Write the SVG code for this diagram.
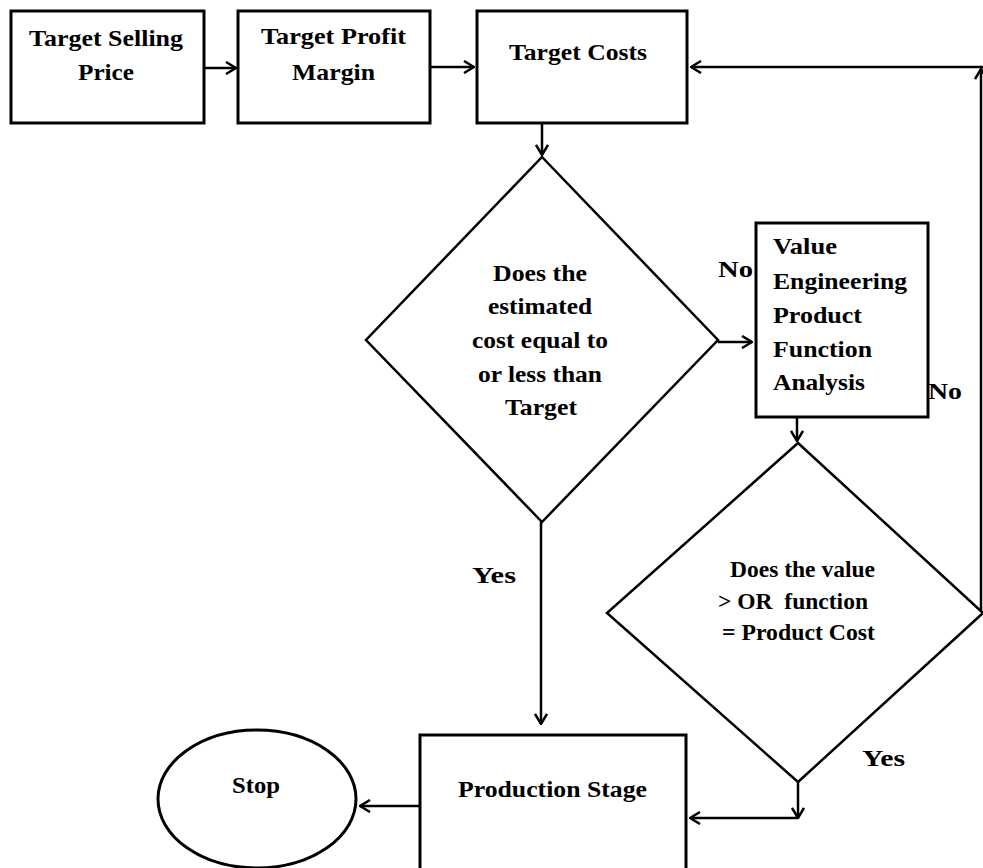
<svg xmlns="http://www.w3.org/2000/svg" width="983" height="868" viewBox="0 0 983 868">
<style>
.box{fill:#fff;stroke:#000;stroke-width:3}
.dia{fill:#fff;stroke:#000;stroke-width:2.5}
.ln{fill:none;stroke:#000;stroke-width:2.5}
.t{font-family:"Liberation Serif","Times New Roman",serif;font-weight:bold;font-size:23px;fill:#000}
</style>
<defs>
<marker id="ah" viewBox="0 0 12 14" refX="11" refY="7" markerWidth="12" markerHeight="14" markerUnits="userSpaceOnUse" orient="auto">
<path d="M1,1 L11,7 L1,13" fill="none" stroke="#000" stroke-width="2.5"/>
</marker>
</defs>
<rect width="983" height="868" fill="#fff"/>
<g id="connectors">
<line class="ln" x1="205" y1="68" x2="236" y2="68" marker-end="url(#ah)"/>
<line class="ln" x1="431" y1="67" x2="474" y2="67" marker-end="url(#ah)"/>
<line class="ln" x1="542" y1="124" x2="542" y2="155" marker-end="url(#ah)"/>
<line class="ln" x1="718" y1="342" x2="752" y2="342" marker-end="url(#ah)"/>
<line class="ln" x1="797" y1="418" x2="797" y2="441" marker-end="url(#ah)"/>
<line class="ln" x1="541" y1="522" x2="541" y2="724" marker-end="url(#ah)"/>
<line class="ln" x1="798" y1="782" x2="798" y2="818" marker-end="url(#ah)"/>
<line class="ln" x1="798" y1="818" x2="690" y2="818" marker-end="url(#ah)"/>
<line class="ln" x1="420" y1="806" x2="360" y2="806" marker-end="url(#ah)"/>
<line class="ln" x1="981" y1="613" x2="981" y2="69" stroke-width="1.8" marker-end="url(#ah)"/>
<line class="ln" x1="983" y1="67" x2="691" y2="67" marker-end="url(#ah)"/>
</g>
<g id="target-selling-price">
<rect class="box" x="11" y="11" width="193" height="112"/>
<text class="t" x="29" y="46" textLength="154" lengthAdjust="spacingAndGlyphs">Target Selling</text>
<text class="t" x="78" y="80" textLength="56" lengthAdjust="spacingAndGlyphs">Price</text>
</g>
<g id="target-profit-margin">
<rect class="box" x="238" y="11" width="192" height="112"/>
<text class="t" x="261" y="44" textLength="145" lengthAdjust="spacingAndGlyphs">Target Profit</text>
<text class="t" x="292" y="80" textLength="83" lengthAdjust="spacingAndGlyphs">Margin</text>
</g>
<g id="target-costs">
<rect class="box" x="477" y="11" width="210" height="112"/>
<text class="t" x="509" y="60" textLength="138" lengthAdjust="spacingAndGlyphs">Target Costs</text>
</g>
<g id="decision-1">
<polygon class="dia" points="542,157 718,340 542,522 366,340"/>
<text class="t" x="493" y="281" textLength="94" lengthAdjust="spacingAndGlyphs">Does the</text>
<text class="t" x="488" y="314" textLength="104" lengthAdjust="spacingAndGlyphs">estimated</text>
<text class="t" x="472" y="348" textLength="136" lengthAdjust="spacingAndGlyphs">cost equal to</text>
<text class="t" x="478" y="382" textLength="124" lengthAdjust="spacingAndGlyphs">or less than</text>
<text class="t" x="505" y="415" textLength="72" lengthAdjust="spacingAndGlyphs">Target</text>
</g>
<g id="value-engineering">
<rect class="box" x="756" y="223" width="172" height="194"/>
<text class="t" x="773" y="254" textLength="64" lengthAdjust="spacingAndGlyphs">Value</text>
<text class="t" x="773" y="289" textLength="134" lengthAdjust="spacingAndGlyphs">Engineering</text>
<text class="t" x="773" y="323" textLength="89" lengthAdjust="spacingAndGlyphs">Product</text>
<text class="t" x="773" y="357" textLength="99" lengthAdjust="spacingAndGlyphs">Function</text>
<text class="t" x="773" y="390" textLength="92" lengthAdjust="spacingAndGlyphs">Analysis</text>
</g>
<g id="decision-2">
<polygon class="dia" points="798,443 983,613 798,782 607,613"/>
<text class="t" x="730" y="577" textLength="145" lengthAdjust="spacingAndGlyphs">Does the value</text>
<text class="t" x="718" y="609" textLength="150" lengthAdjust="spacingAndGlyphs" xml:space="preserve">&gt; OR  function</text>
<text class="t" x="722" y="640" textLength="153" lengthAdjust="spacingAndGlyphs">= Product Cost</text>
</g>
<g id="production-stage">
<rect class="box" x="420" y="735" width="266" height="140"/>
<text class="t" x="458" y="797" textLength="189" lengthAdjust="spacingAndGlyphs">Production Stage</text>
</g>
<g id="stop">
<ellipse class="box" cx="257" cy="799" rx="99" ry="69" stroke-width="2.5"/>
<text class="t" x="232" y="793" textLength="48" lengthAdjust="spacingAndGlyphs">Stop</text>
</g>
<g id="labels">
<text class="t" x="718" y="277" textLength="35" lengthAdjust="spacingAndGlyphs">No</text>
<text class="t" x="928" y="399" textLength="34" lengthAdjust="spacingAndGlyphs">No</text>
<text class="t" x="472" y="583" textLength="44" lengthAdjust="spacingAndGlyphs">Yes</text>
<text class="t" x="862" y="766" textLength="43" lengthAdjust="spacingAndGlyphs">Yes</text>
</g>
</svg>
